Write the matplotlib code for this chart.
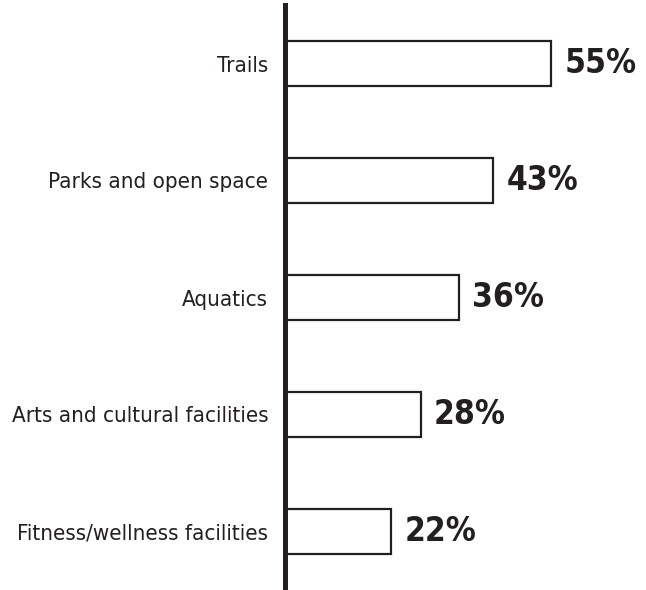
import matplotlib
matplotlib.use("Agg")
import matplotlib.pyplot as plt

categories = ["Trails", "Parks and open space", "Aquatics",
              "Arts and cultural facilities", "Fitness/wellness facilities"]
values = [55, 43, 36, 28, 22]

INK = "#231f20"
plt.rcParams["font.family"] = ["DejaVu Sans"]
plt.rcParams["font.stretch"] = "condensed"

fig = plt.figure(figsize=(6.46, 5.90), dpi=100)
ax = fig.add_axes([285 / 646, 0, 1 - 285 / 646, 585 / 590])

ypos = list(range(len(categories)))
ax.barh(ypos, values, height=0.38, color="white", edgecolor=INK, linewidth=1.6)
ax.set_ylim(len(categories) - 0.5, -0.5)
ax.set_xlim(0, 361 / 4.84)

ax.set_yticks(ypos)
ax.set_yticklabels(categories, fontsize=16, color=INK, fontstretch="condensed")
ax.tick_params(axis="y", length=0, pad=12)
ax.set_xticks([])

for s in ["top", "right", "bottom"]:
    ax.spines[s].set_visible(False)
ax.spines["left"].set_linewidth(3.6)
ax.spines["left"].set_color(INK)

# value labels to the right of each bar
for y, v in zip(ypos, values):
    ax.text(v + 2.7, y, f"{v}%", va="center", ha="left",
            fontsize=24, fontweight="bold", fontstretch="condensed", color=INK)

fig.savefig("out.png", dpi=100)
